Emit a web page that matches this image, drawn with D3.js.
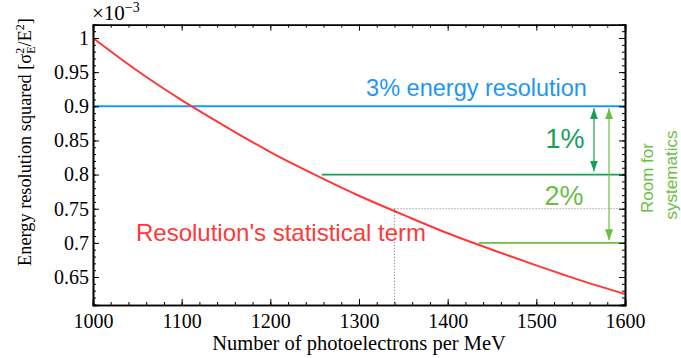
<!DOCTYPE html>
<html>
<head>
<meta charset="utf-8">
<script src="https://cdn.jsdelivr.net/npm/d3@7"></script>
<style>
  html, body { margin: 0; padding: 0; background: #fff; }
  svg { display: block; }
</style>
</head>
<body>
<svg id="chart" width="681" height="358"></svg>
<script>
// Photoelectron yield (per MeV) and the statistical term of sigma_E^2/E^2, in units of 1e-3
const photoelectrons = [1000, 1050, 1100, 1150, 1200, 1250, 1300, 1350, 1400, 1450, 1500, 1550, 1600];
const statTerm       = [1.000, 0.952, 0.909, 0.870, 0.833, 0.800, 0.769, 0.741, 0.714, 0.690, 0.667, 0.645, 0.625];

// Reference levels (units of 1e-3)
const targetLevel = 0.9;            // 3% energy resolution squared
const oneAllowance = { level: 0.8, from: 1258 };
const twoAllowance = { level: 0.7, from: 1435 };
const crossing = { x: 1340, y: 0.75 };
const arrowX = { one: 1565, two: 1582 };

const xTicks = [1000, 1100, 1200, 1300, 1400, 1500, 1600];
const yTicks = [0.65, 0.7, 0.75, 0.8, 0.85, 0.9, 0.95, 1.0];
const yTickLabels = ["0.65", "0.7", "0.75", "0.8", "0.85", "0.9", "0.95", "1"];

const C = {
  red: "#ff3838",
  blue: "#1e96f2",
  dark: "#17a05a",
  light: "#6cbd43",
  grey: "#8a8a8a"
};

const svg = d3.select("#chart");
const pLeft = 93, pRight = 625, pTop = 24.7, pBottom = 305;

const x = d3.scaleLinear().domain([1000, 1600]).range([pLeft, pRight]);
const y = d3.scaleLinear().domain([0.609, 1.0195]).range([pBottom, pTop]);

const serif = "'Liberation Serif', 'Times New Roman', serif";
const sans = "'Liberation Sans', Arial, Helvetica, sans-serif";

// arrowhead marker
function marker(id, color) {
  svg.append("defs").append("marker")
    .attr("id", id)
    .attr("markerUnits", "userSpaceOnUse")
    .attr("viewBox", "0 0 11 8")
    .attr("markerWidth", 11).attr("markerHeight", 8)
    .attr("refX", 11).attr("refY", 4)
    .attr("orient", "auto-start-reverse")
    .append("path").attr("d", "M0,0 L11,4 L0,8 Z").attr("fill", color);
}
marker("headDark", C.dark);
marker("headLight", C.light);

// dotted guide at the 2% crossing
svg.append("line")
  .attr("x1", x(crossing.x)).attr("x2", x(1600))
  .attr("y1", y(crossing.y)).attr("y2", y(crossing.y))
  .attr("stroke", C.grey).attr("stroke-width", 1).attr("stroke-dasharray", "1.2,1.8");
svg.append("line")
  .attr("x1", x(crossing.x)).attr("x2", x(crossing.x))
  .attr("y1", y(crossing.y)).attr("y2", y.range()[0])
  .attr("stroke", C.grey).attr("stroke-width", 1).attr("stroke-dasharray", "1.2,1.8");

// allowance lines
svg.append("line")
  .attr("x1", x(oneAllowance.from)).attr("x2", x(1600))
  .attr("y1", y(oneAllowance.level)).attr("y2", y(oneAllowance.level))
  .attr("stroke", C.dark).attr("stroke-width", 1.8);
svg.append("line")
  .attr("x1", x(twoAllowance.from)).attr("x2", x(1600))
  .attr("y1", y(twoAllowance.level)).attr("y2", y(twoAllowance.level))
  .attr("stroke", C.light).attr("stroke-width", 1.8);

// 3% resolution target
svg.append("line")
  .attr("x1", x(1000)).attr("x2", x(1600))
  .attr("y1", y(targetLevel)).attr("y2", y(targetLevel))
  .attr("stroke", C.blue).attr("stroke-width", 2);

// statistical term curve
svg.append("path")
  .datum(photoelectrons.map((n, i) => [n, statTerm[i]]))
  .attr("fill", "none").attr("stroke", C.red).attr("stroke-width", 2)
  .attr("d", d3.line().x(d => x(d[0])).y(d => y(d[1])).curve(d3.curveMonotoneX));

// double arrows
svg.append("line")
  .attr("x1", x(arrowX.one)).attr("x2", x(arrowX.one))
  .attr("y1", y(targetLevel) + 2).attr("y2", y(oneAllowance.level) - 3)
  .attr("stroke", C.dark).attr("stroke-width", 1.2)
  .attr("marker-start", "url(#headDark)").attr("marker-end", "url(#headDark)");
svg.append("line")
  .attr("x1", x(arrowX.two)).attr("x2", x(arrowX.two))
  .attr("y1", y(targetLevel) + 2).attr("y2", y(twoAllowance.level) - 2.5)
  .attr("stroke", C.light).attr("stroke-width", 1.2)
  .attr("marker-start", "url(#headLight)").attr("marker-end", "url(#headLight)");

// axes: ticks on all four sides, pointing inward
function styleAxis(g) {
  g.select(".domain").attr("stroke", "#000").attr("stroke-width", 1.6);
  g.selectAll(".tick line").attr("stroke", "#000").attr("stroke-width", 1);
  g.selectAll("text").attr("font-family", serif).attr("font-size", 20).attr("fill", "#000");
}
const xMinor = d3.range(1000, 1601, 20);
const yMinor = d3.range(61, 102, 1).map(v => v / 100);

svg.append("g").attr("transform", `translate(0,${pBottom})`)
  .call(d3.axisBottom(x).tickValues(xMinor).tickSize(-3).tickFormat("")).call(styleAxis);
svg.append("g").attr("transform", `translate(0,${pTop})`)
  .call(d3.axisTop(x).tickValues(xMinor).tickSize(-3).tickFormat("")).call(styleAxis);
svg.append("g").attr("transform", `translate(${pLeft},0)`)
  .call(d3.axisLeft(y).tickValues(yMinor).tickSize(-3).tickFormat("")).call(styleAxis);
svg.append("g").attr("transform", `translate(${pRight},0)`)
  .call(d3.axisRight(y).tickValues(yMinor).tickSize(-3).tickFormat("")).call(styleAxis);

svg.append("g").attr("transform", `translate(0,${pBottom})`)
  .call(d3.axisBottom(x).tickValues(xTicks).tickSize(-6).tickPadding(9).tickFormat(d3.format("d")))
  .call(styleAxis);
svg.append("g").attr("transform", `translate(0,${pTop})`)
  .call(d3.axisTop(x).tickValues(xTicks).tickSize(-6).tickFormat("")).call(styleAxis);
svg.append("g").attr("transform", `translate(${pLeft},0)`)
  .call(d3.axisLeft(y).tickValues(yTicks).tickSize(-6).tickPadding(4)
    .tickFormat((d, i) => yTickLabels[i]))
  .call(styleAxis);
svg.append("g").attr("transform", `translate(${pRight},0)`)
  .call(d3.axisRight(y).tickValues(yTicks).tickSize(-6).tickFormat("")).call(styleAxis);

// exponent label
const expo = svg.append("text").attr("x", pLeft - 1).attr("y", 20)
  .attr("font-family", serif).attr("font-size", 21).attr("fill", "#000");
expo.append("tspan").text("×10");
expo.append("tspan").attr("dy", -8).attr("font-size", 14).text("−3");

// axis titles
svg.append("text")
  .attr("x", 359).attr("y", 350)
  .attr("text-anchor", "middle")
  .attr("font-family", serif).attr("font-size", 20.5).attr("fill", "#000")
  .text("Number of photoelectrons per MeV");

const yt = svg.append("text")
  .attr("transform", "translate(31,142) rotate(-90)")
  .attr("text-anchor", "middle")
  .attr("font-family", serif).attr("font-size", 18.3).attr("fill", "#000");
yt.append("tspan").text("Energy resolution squared [σ");
yt.append("tspan").attr("dy", -7).attr("font-size", 12).text("2");
yt.append("tspan").attr("dx", -6).attr("dy", 11).attr("font-size", 12).text("E");
yt.append("tspan").attr("dy", -4).text("/E");
yt.append("tspan").attr("dy", -7).attr("font-size", 12).text("2");
yt.append("tspan").attr("dy", 7).text("]");

// annotations
svg.append("text").attr("x", 476.5).attr("y", 96).attr("text-anchor", "middle")
  .attr("font-family", sans).attr("font-size", 23.5).attr("fill", C.blue)
  .text("3% energy resolution");
svg.append("text").attr("x", 281).attr("y", 241).attr("text-anchor", "middle")
  .attr("font-family", sans).attr("font-size", 24).attr("fill", C.red)
  .text("Resolution's statistical term");
svg.append("text").attr("x", 565).attr("y", 148).attr("text-anchor", "middle")
  .attr("font-family", sans).attr("font-size", 27).attr("fill", C.dark)
  .text("1%");
svg.append("text").attr("x", 564).attr("y", 205).attr("text-anchor", "middle")
  .attr("font-family", sans).attr("font-size", 27).attr("fill", C.light)
  .text("2%");
svg.append("text").attr("transform", "translate(653,178) rotate(-90)").attr("text-anchor", "middle")
  .attr("font-family", sans).attr("font-size", 17).attr("fill", C.light)
  .text("Room for");
svg.append("text").attr("transform", "translate(677,175) rotate(-90)").attr("text-anchor", "middle")
  .attr("font-family", sans).attr("font-size", 17).attr("fill", C.light)
  .text("systematics");
</script>
</body>
</html>
